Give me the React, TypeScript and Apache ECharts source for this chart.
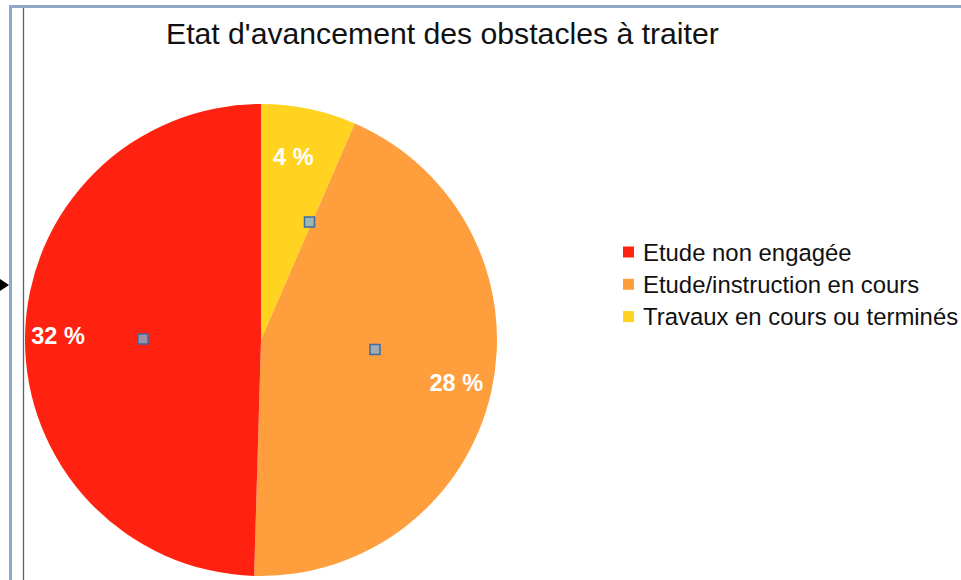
import React, { useEffect, useRef } from "react";
import * as echarts from "echarts";

const categories = ["Travaux en cours ou terminés", "Etude/instruction en cours", "Etude non engagée"];
const values = [4.2, 28.4, 32];
const colors = ["#ffd320", "#ff9e3d", "#ff2211"];
const legendOrder = ["Etude non engagée", "Etude/instruction en cours", "Travaux en cours ou terminés"];
const titleText = "Etat d'avancement des obstacles à traiter";
// per-slice label nudges (layout only)
const labelNudge = [[-8, 12], [1, 0], [-4, -1]];

const FONT = "'Liberation Sans', Arial, sans-serif";

export default function App() {
  const ref = useRef<HTMLDivElement>(null);
  useEffect(() => {
    document.body.style.margin = "0";
    const chart = echarts.init(ref.current!, null, { renderer: "svg" });
    const data = categories.map((name, i) => ({ name, value: values[i], itemStyle: { color: colors[i] } }));
    const handle = (cx: number, cy: number) => ({
      type: "rect",
      shape: { x: cx - 5, y: cy - 5, width: 10, height: 10 },
      style: { fill: "rgba(133,176,211,0.78)", stroke: "#3a6ea5", lineWidth: 1.5 },
      z: 100,
    });
    chart.setOption({
      animation: false,
      backgroundColor: "#ffffff",
      title: {
        text: titleText,
        left: 161,
        top: 13,
        textStyle: { fontFamily: FONT, fontSize: 30.2, fontWeight: "normal", color: "#111" },
      },
      legend: {
        orient: "vertical",
        left: 618,
        top: 235,
        data: legendOrder,
        icon: "rect",
        itemWidth: 11,
        itemHeight: 11,
        itemGap: 8.3,
        textStyle: { fontFamily: FONT, fontSize: 23.9, color: "#111", padding: [0, 0, 0, 4] },
        selectedMode: false,
      },
      series: [
        {
          type: "pie",
          center: [261, 340],
          radius: [0, 236],
          startAngle: 90,
          clockwise: true,
          data,
          label: { show: false },
          labelLine: { show: false },
          silent: true,
          itemStyle: { borderWidth: 0 },
        },
        {
          type: "pie",
          center: [261, 340],
          radius: [156, 236],
          startAngle: 90,
          clockwise: true,
          data: categories.map((name, i) => ({ name, value: values[i] })),
          itemStyle: { color: "rgba(0,0,0,0)", borderWidth: 0 },
          label: {
            show: true,
            position: "inside",
            formatter: (p: any) => `${Math.round(p.value)} %`,
            fontFamily: FONT,
            fontSize: 23.5,
            fontWeight: "bold",
            color: "#ffffff",
          },
          labelLayout: (p: any) => ({ dx: labelNudge[p.dataIndex][0], dy: labelNudge[p.dataIndex][1] }),
          labelLine: { show: false },
          silent: true,
          legendHoverLink: false,
        },
      ],
      graphic: [
        { type: "line", shape: { x1: 9, y1: 6.5, x2: 961, y2: 6.5 }, style: { stroke: "#8fa8c8", lineWidth: 3 } },
        { type: "line", shape: { x1: 10.5, y1: 5, x2: 10.5, y2: 580 }, style: { stroke: "#8fa8c8", lineWidth: 3 } },
        { type: "line", shape: { x1: 23.5, y1: 8, x2: 23.5, y2: 580 }, style: { stroke: "#606060", lineWidth: 1.3 } },
        { type: "polygon", shape: { points: [[0, 279], [9, 285], [0, 291]] }, style: { fill: "#000" } },
        handle(309.5, 222),
        handle(375, 349.5),
        handle(143, 339),
      ],
    });
    return () => chart.dispose();
  }, []);
  return <div ref={ref} style={{ width: 961, height: 580 }} />;
}
